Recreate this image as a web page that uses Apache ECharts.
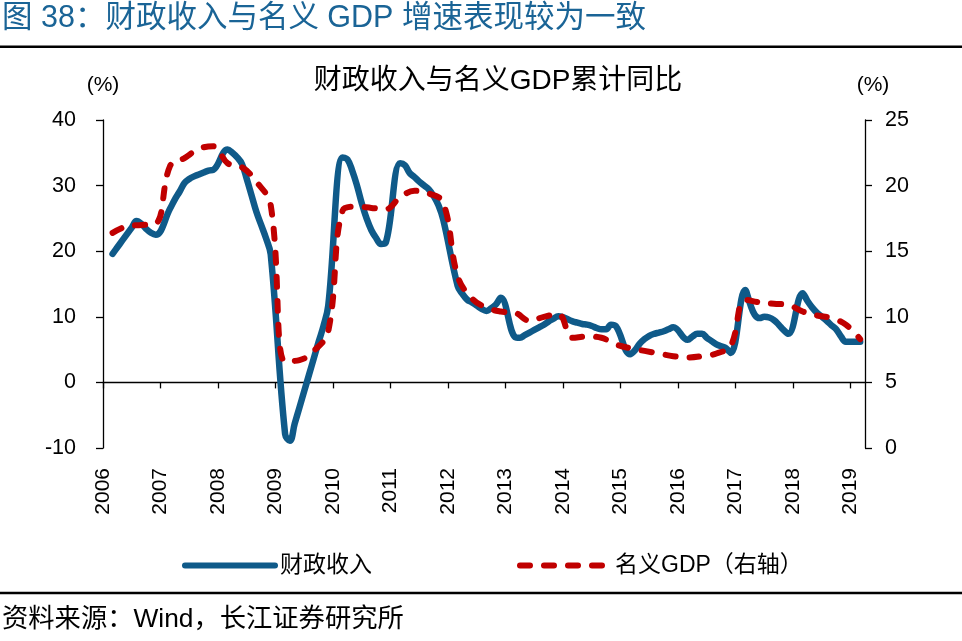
<!DOCTYPE html>
<html>
<head>
<meta charset="utf-8">
<script src="https://cdn.jsdelivr.net/npm/echarts/dist/echarts.min.js"></script>
<style>
html,body{margin:0;padding:0;background:#fff;}
#chart{width:962px;height:641px;}
</style>
</head>
<body>
<div id="chart"></div>
<script>
// ---- tick labels / categories ----
const years = ['2006','2007','2008','2009','2010','2011','2012','2013','2014','2015','2016','2017','2018','2019'];
const monthNames = ['01','02','03','04','05','06','07','08','09','10','11','12'];
const lastMonthCount2019 = 4; // axis runs to 2019-04

// ---- series values (monthly slots, Jan 2006 .. Apr 2019) ----
// 财政收入 累计同比 (%) — left axis
const fiscalRevenue = [
  null, null, 19.6, 20.6, 21.6, 22.6, 23.6, 24.6, 24.2, 23.4, 22.8, 22.5,   // 2006
  null, null, 26.5, 27.9, 29.1, 30.4, 31.0, 31.4, 31.7, 32.0, 32.3, 32.4,   // 2007
  null, null, 35.5, 35.0, 34.3, 33.3, 31.0, 28.5, 26.0, 24.0, 22.0, 19.5,   // 2008
  null, null, -7.9, -8.9, -6.3, -3.8, -1.3, 1.2, 3.7, 6.2, 8.6, 11.7,       // 2009
  null, null, 34.3, 34.0, 32.3, 30.0, 27.3, 25.0, 23.2, 22.0, 21.1, 21.3,   // 2010
  null, null, 33.4, 33.1, 31.9, 31.3, 30.6, 30.0, 29.4, 28.4, 27.0, 24.8,   // 2011
  null, null, 14.7, 13.5, 12.6, 12.2, 11.7, 11.2, 10.9, 11.3, 11.9, 12.9,   // 2012
  null, null, 6.9, 6.8, 7.2, 7.6, 8.0, 8.4, 8.8, 9.3, 9.7, 10.1,            // 2013
  null, null, 9.3, 9.1, 8.9, 8.8, 8.6, 8.3, 8.1, 8.1, 8.8, 8.6,             // 2014
  null, null, 4.3, 4.9, 5.9, 6.6, 7.1, 7.4, 7.6, 7.8, 8.1, 8.4,             // 2015
  null, null, 6.5, 7.0, 7.4, 7.4, 6.8, 6.3, 5.8, 5.5, 5.2, 4.5,             // 2016
  null, null, 14.1, 12.0, 10.3, 9.8, 10.0, 9.9, 9.5, 8.8, 8.0, 7.4,         // 2017
  null, null, 13.6, 12.4, 11.4, 10.6, 10.0, 9.4, 8.7, 8.1, 7.0, 6.2,        // 2018
  null, null, 6.2, null                                                      // 2019
];
// 名义GDP 累计同比 (%) — right axis, quarterly
const nominalGDP = [
  null, null, 16.4, null, null, 16.9, null, null, 17.0, null, null, 17.1,   // 2006
  null, null, 21.5, null, null, 22.1, null, null, 22.8, null, null, 23.0,   // 2007
  null, null, 21.7, null, null, 21.4, null, null, 20.3, null, null, 18.5,   // 2008
  null, null, 6.6, null, null, 6.7, null, null, 7.4, null, null, 8.9,       // 2009
  null, null, 18.1, null, null, 18.4, null, null, 18.3, null, null, 18.2,   // 2010
  null, null, 19.1, null, null, 19.6, null, null, 19.4, null, null, 18.7,   // 2011
  null, null, 13.1, null, null, 11.4, null, null, 10.7, null, null, 10.4,   // 2012
  null, null, 10.3, null, null, 9.7, null, null, 10.0, null, null, 10.2,    // 2013
  null, null, 8.4, null, null, 8.5, null, null, 8.4, null, null, 7.9,       // 2014
  null, null, 7.6, null, null, 7.4, null, null, 7.2, null, null, 7.0,       // 2015
  null, null, 6.9, null, null, 7.0, null, null, 7.2, null, null, 7.8,       // 2016
  null, null, 11.3, null, null, 11.1, null, null, 11.0, null, null, 10.9,   // 2017
  null, null, 10.4, null, null, 10.1, null, null, 9.9, null, null, 9.4,     // 2018
  null, null, 8.3, null                                                      // 2019
];
const seriesNames = ['财政收入', '名义GDP（右轴）'];
const leftTicks = { min: -10, max: 40, interval: 10 };
const rightTicks = { min: 0, max: 25, interval: 5 };

// build month categories from year list
const months = [];
years.forEach((y, yi) => {
  const n = yi === years.length - 1 ? lastMonthCount2019 : 12;
  for (let m = 0; m < n; m++) months.push(y + '-' + monthNames[m]);
});
const isJan = (i, v) => v.slice(5) === '01';

const FONT = "'Liberation Sans', 'Noto Sans CJK SC', sans-serif";
const BLUE = '#0f5a89', RED = '#c00000';
const chart = echarts.init(document.getElementById('chart'), null, { renderer: 'canvas' });

chart.setOption({
  animation: false,
  backgroundColor: '#fff',
  textStyle: { fontFamily: FONT, color: '#000' },
  grid: { left: 103, right: 97, top: 120, bottom: 193, containLabel: false },
  graphic: [
    { type: 'text', x: 2, y: 19, style: { text: '图 38：财政收入与名义 GDP 增速表现较为一致', fontSize: 30.5, fontFamily: FONT, fill: '#1a6496', verticalAlign: 'middle', align: 'left' } },
    { type: 'rect', shape: { x: 0, y: 45.5, width: 962, height: 2.6 }, style: { fill: '#000' } },
    { type: 'text', x: 498, y: 81, style: { text: '财政收入与名义GDP累计同比', fontSize: 28, fontFamily: FONT, fill: '#000', verticalAlign: 'middle', align: 'center' } },
    { type: 'rect', shape: { x: 0, y: 591.8, width: 962, height: 2.4 }, style: { fill: '#000' } },
    { type: 'text', x: 2, y: 620, style: { text: '资料来源：Wind，长江证券研究所', fontSize: 26.3, fontFamily: FONT, fill: '#000', verticalAlign: 'middle', align: 'left' } }
  ],
  legend: {
    data: seriesNames,
    left: 177, top: 549,
    itemWidth: 90, itemHeight: 24, itemGap: 145,
    itemStyle: { opacity: 0, borderWidth: 0 },
    lineStyle: { width: 6, cap: 'round' },
    textStyle: { fontSize: 23, fontFamily: FONT, color: '#000' }
  },
  xAxis: [
    {
      type: 'category', data: months, boundaryGap: false, position: 'bottom',
      axisLine: { show: false, onZero: false },
      axisTick: { show: false },
      axisLabel: { interval: isJan, rotate: 90, margin: 20, fontSize: 21, color: '#000', fontFamily: FONT,
                   formatter: v => v.slice(0, 4) },
      splitLine: { show: false }
    },
    {
      type: 'category', data: months, boundaryGap: false, position: 'bottom',
      axisLine: { show: true, onZero: true, onZeroAxisIndex: 0, lineStyle: { color: '#000', width: 1.3 } },
      axisTick: { show: true, interval: isJan, length: 6, lineStyle: { color: '#000', width: 1.3 } },
      axisLabel: { show: false },
      splitLine: { show: false }
    }
  ],
  yAxis: [
    {
      type: 'value', position: 'left', min: leftTicks.min, max: leftTicks.max, interval: leftTicks.interval,
      name: '(%)', nameLocation: 'end', nameGap: 24,
      nameTextStyle: { fontSize: 21, color: '#000', fontFamily: FONT, align: 'center' },
      axisLine: { show: true, lineStyle: { color: '#000', width: 1.3 } },
      axisTick: { show: true, length: 7, lineStyle: { color: '#000', width: 1.3 } },
      axisLabel: { margin: 27, fontSize: 21.5, color: '#000', fontFamily: FONT },
      splitLine: { show: false }
    },
    {
      type: 'value', position: 'right', min: rightTicks.min, max: rightTicks.max, interval: rightTicks.interval,
      name: '(%)', nameLocation: 'end', nameGap: 24,
      nameTextStyle: { fontSize: 21, color: '#000', fontFamily: FONT, align: 'center', padding: [0, 0, 0, 16] },
      axisLine: { show: true, lineStyle: { color: '#000', width: 1.3 } },
      axisTick: { show: true, length: 7, lineStyle: { color: '#000', width: 1.3 } },
      axisLabel: { margin: 20, fontSize: 21.5, color: '#000', fontFamily: FONT },
      splitLine: { show: false }
    }
  ],
  series: [
    {
      name: seriesNames[0], type: 'line', xAxisIndex: 0, yAxisIndex: 0,
      data: fiscalRevenue, connectNulls: true, smooth: 0.4,
      symbol: 'none', showSymbol: false,
      lineStyle: { color: BLUE, width: 6.5, cap: 'round', join: 'round' },
      itemStyle: { color: BLUE },
      z: 3
    },
    {
      name: seriesNames[1], type: 'line', xAxisIndex: 0, yAxisIndex: 1,
      data: nominalGDP, connectNulls: true, smooth: 0.4,
      symbol: 'none', showSymbol: false,
      lineStyle: { color: RED, width: 6, type: [10, 14], cap: 'round', join: 'round' },
      itemStyle: { color: RED },
      z: 4
    }
  ]
});
</script>
</body>
</html>
